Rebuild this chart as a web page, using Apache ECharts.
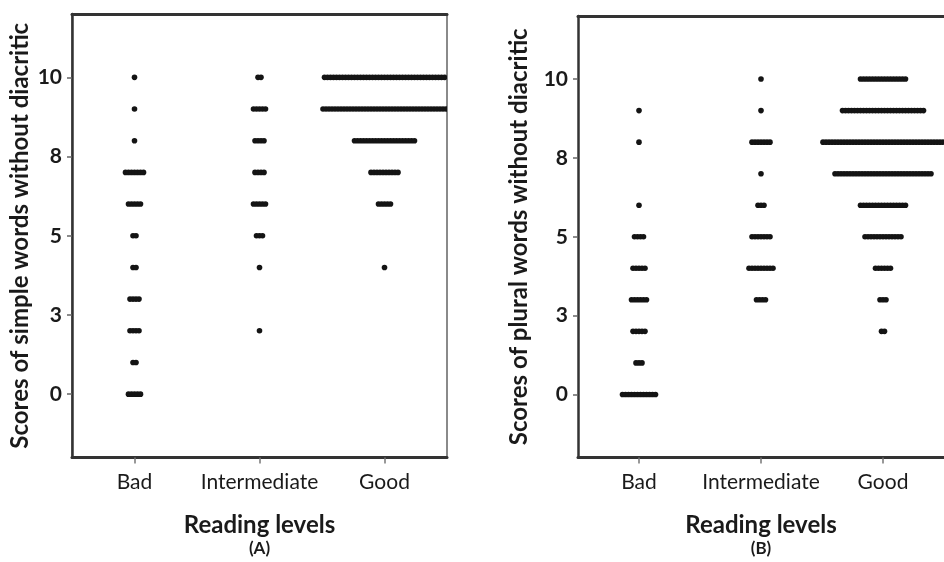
<!DOCTYPE html>
<html>
<head>
<meta charset="utf-8">
<script src="https://cdn.jsdelivr.net/npm/echarts@6/dist/echarts.min.js"></script>
<style>
  html, body { margin: 0; padding: 0; background: #fff; }
  #chart { width: 944px; height: 562px; }
</style>
</head>
<body>
<div id="chart"></div>
<script>
// Reading levels on the x axis of both panels
const readingLevels = ['Bad', 'Intermediate', 'Good'];

// Possible scores (0 to 10), one row of dots per score
const scoreLevels = [0, 1, 2, 3, 4, 5, 6, 7, 8, 9, 10];

// Y axis tick positions and the labels printed at them
const tickValues = [0, 2.5, 5, 7.5, 10];
const tickLabels = ['0', '3', '5', '8', '10'];

// Panel A: number of pupils at each score (index = score), simple words without diacritic
const simpleBad          = [5, 2, 4, 4, 2, 2, 5, 7, 1, 1, 1];
const simpleIntermediate = [0, 0, 1, 0, 1, 3, 5, 4, 4, 5, 2];
const simpleGood         = [0, 0, 0, 0, 1, 0, 5, 10, 21, 42, 41];

// Panel B: number of pupils at each score, plural words without diacritic
const pluralBad          = [12, 3, 5, 6, 5, 4, 1, 0, 1, 1, 0];
const pluralIntermediate = [0, 0, 0, 4, 9, 7, 3, 1, 7, 1, 1];
const pluralGood         = [0, 0, 2, 3, 6, 13, 16, 33, 41, 28, 16];

// Spacing between stacked dots and dot radius, in pixels
const DOT_STEP = 3;
const DOT_R = 2.8;
const DOT_COLOR = '#141414';
const FONT = 'Lato';

function buildRows(countsPerLevel) {
  const rows = [];
  countsPerLevel.forEach((counts, catIdx) => {
    counts.forEach((n, i) => {
      if (n > 0) rows.push([catIdx, scoreLevels[i], n]);
    });
  });
  return rows;
}

function renderDots(params, api) {
  const n = api.value(2);
  const c = api.coord([api.value(0), api.value(1)]);
  const cs = params.coordSys;
  const children = [];
  for (let i = 0; i < n; i++) {
    children.push({
      type: 'circle',
      shape: { cx: c[0] + (i - (n - 1) / 2) * DOT_STEP, cy: c[1], r: DOT_R },
      style: { fill: DOT_COLOR }
    });
  }
  return {
    type: 'group',
    clipPath: { type: 'rect', shape: { x: cs.x, y: cs.y, width: cs.width, height: cs.height } },
    children
  };
}

function xAxisFor(gridIndex, tag) {
  return {
    type: 'category',
    gridIndex,
    data: readingLevels,
    position: 'bottom',
    axisLine: { show: true, onZero: false, lineStyle: { color: '#333', width: 3 } },
    axisTick: { show: true, alignWithLabel: true, length: 6, lineStyle: { color: '#777', width: 1.5 } },
    axisLabel: { interval: 0, color: '#1a1a1a', fontFamily: FONT, fontSize: 21, margin: 14 },
    splitLine: { show: false },
    name: '{a|Reading levels}\n{b|' + tag + '}',
    nameLocation: 'middle',
    nameGap: 54,
    nameTextStyle: {
      rich: {
        a: { fontFamily: FONT, fontWeight: 'bold', fontSize: 24, color: '#1a1a1a', lineHeight: 27 },
        b: { fontFamily: FONT, fontWeight: 'bold', fontSize: 17, color: '#1a1a1a', lineHeight: 20 }
      }
    }
  };
}

function topFrameAxis(gridIndex) {
  return {
    type: 'category',
    gridIndex,
    data: readingLevels,
    position: 'top',
    axisLine: { show: true, onZero: false, lineStyle: { color: '#333', width: 3 } },
    axisTick: { show: false },
    axisLabel: { show: false },
    splitLine: { show: false }
  };
}

function yAxisFor(gridIndex, title, gap) {
  return {
    type: 'value',
    gridIndex,
    min: -2,
    max: 12,
    axisLine: { show: true, lineStyle: { color: '#333', width: 2.5 } },
    axisTick: { show: true, length: 5, customValues: tickValues, lineStyle: { color: '#666', width: 1.5 } },
    axisLabel: {
      customValues: tickValues,
      formatter: v => tickLabels[tickValues.indexOf(v)],
      color: '#1a1a1a', fontFamily: FONT, fontWeight: 'bold', fontSize: 21, margin: 10
    },
    splitLine: { show: false },
    name: title,
    nameLocation: 'middle',
    nameGap: gap,
    nameTextStyle: { fontFamily: FONT, fontWeight: 'bold', fontSize: 24, color: '#1a1a1a' }
  };
}

const chart = echarts.init(document.getElementById('chart'), null, { renderer: 'canvas' });
chart.setOption({
  animation: false,
  backgroundColor: '#fff',
  grid: [
    { left: 72, top: 14, right: 497, bottom: 96, show: true, borderWidth: 2, borderColor: '#8a8a8a', containLabel: false },
    { left: 578, top: 16, right: -8, bottom: 92, show: false, containLabel: false }
  ],
  xAxis: [xAxisFor(0, '(A)'), topFrameAxis(0), xAxisFor(1, '(B)'), topFrameAxis(1)],
  yAxis: [
    yAxisFor(0, 'Scores of simple words without diacritic', 40),
    yAxisFor(1, 'Scores of plural words without diacritic', 47)
  ],
  series: [
    {
      type: 'custom', xAxisIndex: 0, yAxisIndex: 0,
      renderItem: renderDots,
      data: buildRows([simpleBad, simpleIntermediate, simpleGood])
    },
    {
      type: 'custom', xAxisIndex: 2, yAxisIndex: 1,
      renderItem: renderDots,
      data: buildRows([pluralBad, pluralIntermediate, pluralGood])
    }
  ]
});
</script>
</body>
</html>
